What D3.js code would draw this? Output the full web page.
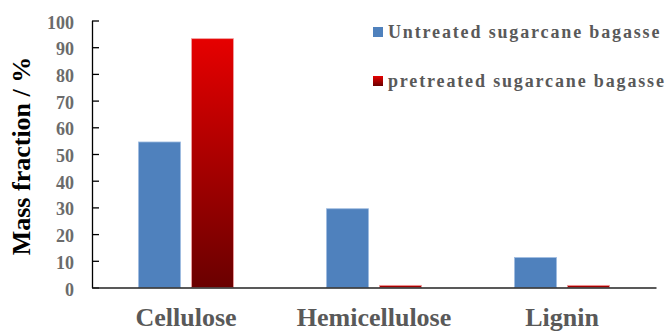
<!DOCTYPE html>
<html>
<head>
<meta charset="utf-8">
<script src="https://cdn.jsdelivr.net/npm/d3@7/dist/d3.min.js"></script>
<style>
  html, body { margin: 0; padding: 0; background: #fff; }
  svg { display: block; }
</style>
</head>
<body>
<svg id="chart" width="666" height="331"></svg>
<script>
// Composition of sugarcane bagasse before and after pretreatment
const categories = ["Cellulose", "Hemicellulose", "Lignin"];
const seriesNames = ["Untreated sugarcane bagasse", "pretreated sugarcane bagasse"];
const untreated = [54.5, 29.5, 11.2];
const pretreated = [93.2, 0.8, 0.8];
const yTicks = [0, 10, 20, 30, 40, 50, 60, 70, 80, 90, 100];

const FONT = "'Liberation Serif'";

const rows = categories.map((c, i) => ({
  category: c,
  values: [
    { series: seriesNames[0], value: untreated[i] },
    { series: seriesNames[1], value: pretreated[i] }
  ]
}));

const svg = d3.select("#chart");
const W = 666, H = 331;
const plot = { left: 92, right: 656, top: 20.5, bottom: 287.5 };

svg.append("rect").attr("width", W).attr("height", H).attr("fill", "#fff");

// Dark-red vertical gradient for the pretreated series
const defs = svg.append("defs");
const grad = defs.append("linearGradient")
  .attr("id", "redGrad").attr("x1", 0).attr("y1", 0).attr("x2", 0).attr("y2", 1);
grad.append("stop").attr("offset", "0%").attr("stop-color", "#e60000");
grad.append("stop").attr("offset", "100%").attr("stop-color", "#6a0000");

const fills = ["#4f81bd", "url(#redGrad)"];
const strokes = ["#9dbbe0", "#f0a0a0"];

const y = d3.scaleLinear().domain([0, 100]).range([plot.bottom, plot.top]);
const x0 = d3.scaleBand().domain(categories)
  .range([plot.left, plot.right])
  .paddingInner(0.495).paddingOuter(0.2475);
const x1 = d3.scaleBand().domain(seriesNames)
  .range([0, x0.bandwidth()])
  .paddingInner(0.2075).paddingOuter(0);

// Bars
const groups = svg.append("g").selectAll("g")
  .data(rows).join("g")
  .attr("transform", d => `translate(${x0(d.category)},0)`);

groups.selectAll("rect")
  .data(d => d.values).join("rect")
  .attr("x", d => x1(d.series))
  .attr("y", d => y(d.value))
  .attr("width", x1.bandwidth())
  .attr("height", d => y(0) - y(d.value))
  .attr("fill", (d, i) => fills[i])
  .attr("stroke", (d, i) => strokes[i])
  .attr("stroke-width", 0.8);

// Y axis with inward ticks
const yAxis = d3.axisLeft(y).tickValues(yTicks).tickSizeInner(-7).tickSizeOuter(0).tickPadding(18);
const gy = svg.append("g").attr("transform", `translate(${plot.left},0)`).call(yAxis);
gy.attr("font-family", null).attr("font-size", null);
gy.select(".domain").attr("stroke", "#000").attr("stroke-width", 1.3);
gy.selectAll(".tick line").attr("stroke", "#000").attr("stroke-width", 1.3);
gy.selectAll(".tick text")
  .attr("fill", "#6b6b6b").attr("dy", "0.42em")
  .style("font-family", FONT).style("font-weight", "bold").style("font-size", "18px");

// X axis (baseline with category labels)
const xAxis = d3.axisBottom(x0).tickSize(0).tickPadding(20);
const gx = svg.append("g").attr("transform", `translate(0,${plot.bottom})`).call(xAxis);
gx.attr("font-family", null).attr("font-size", null);
gx.select(".domain").attr("stroke", "#222").attr("stroke-width", 1.5);
gx.selectAll(".tick text")
  .attr("fill", "#595959")
  .style("font-family", FONT).style("font-weight", "bold").style("font-size", "26px");

// Y axis title
svg.append("text")
  .attr("transform", "translate(30,156) rotate(-90)")
  .attr("text-anchor", "middle")
  .attr("fill", "#000")
  .style("font-family", FONT).style("font-weight", "bold").style("font-size", "26px")
  .text("Mass fraction / %");

// Legend
const legend = svg.append("g").attr("transform", "translate(373,27)");
const items = legend.selectAll("g").data(seriesNames).join("g")
  .attr("transform", (d, i) => `translate(0,${i * 49})`);
items.append("rect")
  .attr("width", 10).attr("height", 10)
  .attr("fill", (d, i) => fills[i]);
items.append("text")
  .attr("x", 15).attr("y", 10.5)
  .attr("letter-spacing", 1.85)
  .attr("fill", "#595959")
  .style("font-family", FONT).style("font-weight", "bold").style("font-size", "18px")
  .text(d => d);
</script>
</body>
</html>
